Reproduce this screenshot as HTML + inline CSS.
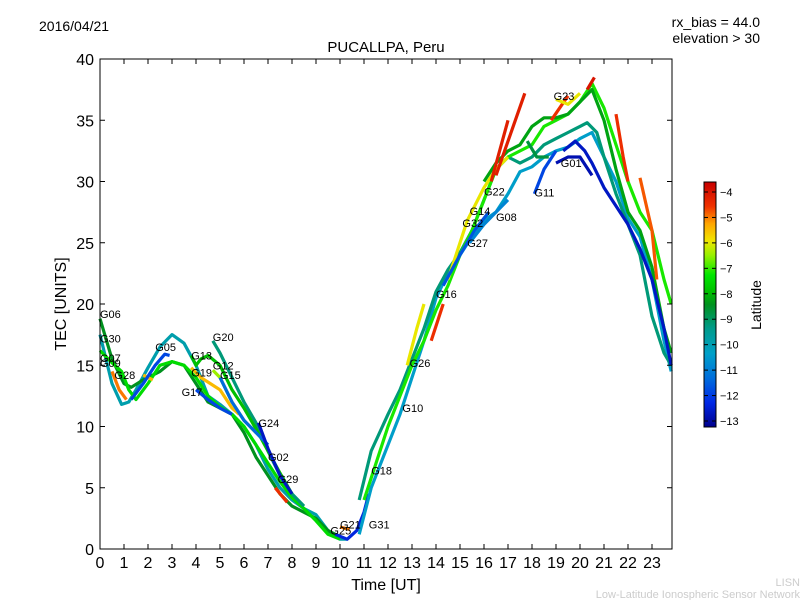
<!DOCTYPE html>
<html><head><meta charset="utf-8"><style>
body{margin:0;background:#fff;}
svg text{font-family:"Liberation Sans","DejaVu Sans",sans-serif;}
</style></head><body>
<svg id="chart" width="800" height="600" xmlns="http://www.w3.org/2000/svg">
<defs><linearGradient id="cmapg" x1="0" y1="1" x2="0" y2="0"></linearGradient></defs>
<text x="39" y="31" font-size="14">2016/04/21</text>
<text x="760" y="27" font-size="14" text-anchor="end">rx_bias = 44.0</text>
<text x="760" y="43" font-size="14" text-anchor="end">elevation &gt; 30</text>
<text x="386" y="52" font-size="15" text-anchor="middle">PUCALLPA, Peru</text>
<g id="marks"></g>
<rect x="100" y="59" width="572" height="490" fill="none" stroke="#000" stroke-width="1"/>
<g id="axes"></g>
<text x="386" y="590" font-size="16" text-anchor="middle">Time [UT]</text>
<text x="66" y="304" font-size="16" text-anchor="middle" transform="rotate(-90 66 304)">TEC [UNITS]</text>
<rect x="704" y="182" width="12" height="245" fill="url(#cmapg)" stroke="#000" stroke-width="1"/>
<g id="cbticks"></g>
<text x="761" y="305" font-size="14" text-anchor="middle" transform="rotate(-90 761 305)">Latitude</text>
<text x="800" y="586" font-size="11" fill="#ccc" text-anchor="end">LISN</text>
<text x="800" y="598" font-size="11" fill="#ccc" text-anchor="end">Low-Latitude Ionospheric Sensor Network</text>
</svg>
<script>
const xTicks=[0,1,2,3,4,5,6,7,8,9,10,11,12,13,14,15,16,17,18,19,20,21,22,23];
const yTicks=[0,5,10,15,20,25,30,35,40];
const cbTicks=[-4,-5,-6,-7,-8,-9,-10,-11,-12,-13];
const series=[
{name:"G06",lat:-10,t:[0,0.5,0.9,1.2,1.5,2,2.5,3,3.5,4,4.5,5,5.5,6,6.5,7,7.5,8,8.5,9,9.5,10,10.3],v:[17.5,13.5,11.8,12,13,14.8,16.5,17.5,16.8,15,12.5,11.8,11,10,8.5,6.5,5,4,3.3,2.8,1.5,0.8,0.8]},
{name:"G30",lat:-8.5,t:[0,0.5,1,1.3,1.8,2.5,3,3.5,4,4.5,5,5.5,6,6.5,7,7.5,8,9,9.5,10],v:[18.8,15.5,13.5,13.2,13.8,14.5,15.3,15,13.5,12,11.5,11,9.5,7.5,6,4.5,3.5,2.5,1.5,1]},
{name:"G07",lat:-7.5,t:[0,0.5,0.9,1.2,1.5,2,2.5,3,3.5,4,4.5,5,5.5,6,6.5,7,7.5,8,8.5,9,9.5,10],v:[16.2,15.2,14.5,13,12.2,13.5,15,15.3,15,14,12.5,11.6,11,10,8.5,7,5.5,4.2,3.3,2.3,1.2,0.8]},
{name:"G28",lat:-5,t:[0.5,0.8,1.1],v:[14.5,13,12.2]},
{name:"G28b",lat:-5.5,t:[1.8,2.2],v:[14.2,13.8]},
{name:"G05",lat:-12,t:[1.3,1.8,2.3,2.7,2.9],v:[12.2,13.5,15,15.9,15.8]},
{name:"G20",lat:-9.3,t:[4.7,5,5.5,6,6.5,7,7.5,8,8.5],v:[17,16,14,12,10.3,8,6,4.5,3.5]},
{name:"G13",lat:-8,t:[3.8,4,4.2,4.5,5,5.5,6,6.5,7,7.5,8],v:[15.8,15,15.5,15.8,15,13,11.5,9.8,8,6.2,4.5]},
{name:"G19",lat:-5.5,t:[3.8,4.2,4.6,5,5.5,5.8],v:[14.8,14,13.5,13,11.5,11]},
{name:"G12",lat:-6.5,t:[4.7,5,5.5,6,6.5],v:[14.6,14,12,10.5,9.5]},
{name:"G15",lat:-11.5,t:[5,5.5,6,6.5,7],v:[14,12,10.5,9.5,8.5]},
{name:"G24",lat:-12.8,t:[6.6,7,7.5,8],v:[10.3,8.2,6,4.5]},
{name:"G17",lat:-12,t:[4,4.5,5,5.5],v:[13,12.2,11.5,11]},
{name:"G29",lat:-4.5,t:[7.3,7.8],v:[5,3.8]},
{name:"G31",lat:-12.5,t:[9.8,10.3,10.7,11,11.2],v:[1.2,0.8,1.5,3,4.5]},
{name:"G21",lat:-5,t:[10,10.4],v:[1.8,1.6]},
{name:"G10",lat:-10.5,t:[10.8,11.3,12,12.5,13,13.5,14,14.5,15,15.5,16,16.5,17,17.5,18,18.5,19,19.5,20,20.5,21,21.5,22,22.5,23,23.5,23.8],v:[1.2,5,8.5,11,14,17,20.5,22.5,24,25.5,26.8,27.5,29,30.8,31.2,32,32.5,32.8,33.5,34,32,30,27,25.5,22,17,14.5]},
{name:"G18",lat:-9.3,t:[10.8,11.3,12,12.5,13,13.5,14,14.5,15,15.5,16,16.5,17,17.5,18,18.5,19,19.5,20,20.3,20.7,21,21.5,22,22.5,23,23.5,23.8],v:[4,8,11,13,15.5,18,21,22.8,24.2,26,28.5,31,32,31.5,32,33,33.5,34,34.5,34.8,34,32,29,26.5,24,19,16,15]},
{name:"G26",lat:-7.2,t:[11,11.5,12,12.5,13,13.5,14,14.5,15,15.5,16,16.5,17,18,18.5,19,19.5,20,20.5,21,21.5,22,22.5,23,23.5,23.8],v:[4,7,10,12.5,15,17,19.5,21.5,24,26,28.5,31,32,33,34.5,35,35.5,36.5,38,36,33,30,27.5,26,22,20]},
{name:"G22",lat:-8.3,t:[16,16.5,17,17.5,18,18.5,19,19.5,20,20.5,21,21.5,22,22.5,23,23.5,23.8],v:[30,31.5,32.5,33,34.5,35.2,35.2,35.5,36.5,37.5,35,31,27.5,26,23,18,16]},
{name:"G26b",lat:-6,t:[12.8,13.2,13.5],v:[15,18,20]},
{name:"G16",lat:-4.5,t:[13.8,14.3],v:[17,20]},
{name:"G14",lat:-6,t:[14.5,15,15.3,16,16.5,17],v:[22,25,26.8,29.5,31,32]},
{name:"R1",lat:-4.2,t:[16.3,17],v:[30,35]},
{name:"R2",lat:-4.2,t:[16.5,17.7],v:[30.5,37.2]},
{name:"R3",lat:-4.5,t:[18.8,19.5],v:[35,37]},
{name:"R4",lat:-4,t:[20.3,20.6],v:[37.5,38.5]},
{name:"G23",lat:-6,t:[19,19.5,20],v:[36.7,36.3,37.2]},
{name:"G01",lat:-13,t:[19,19.5,20,20.5],v:[31.5,32,32,30.5]},
{name:"G01b",lat:-12.8,t:[19.3,19.8,20.2,20.5,21,21.5,22,22.5,23,23.5,23.8],v:[32.5,33.3,32.5,31.5,29.5,28,26.5,24.5,22,18,15]},
{name:"G11",lat:-12,t:[18.1,18.5,19],v:[29,31,32.5]},
{name:"G27",lat:-11,t:[15.4,16,16.5,17],v:[25,26.5,27.5,28.5]},
{name:"G08",lat:-11.8,t:[14.3,15,15.6,16.2],v:[21.5,24,26,27.5]},
{name:"R5",lat:-4.5,t:[21.5,21.8,22],v:[35.5,32,30]},
{name:"R6",lat:-4.8,t:[22.5,23,23.2],v:[30.3,26,22]},
{name:"G08b",lat:-8.8,t:[17.8,18.2,18.7],v:[33.3,32,32]}
];
const labels=[["G06",0,19.2],["G30",0,17.2],["G07",0,15.6],["G09",0,15.2],["G28",0.6,14.2],["G05",2.3,16.5],["G20",4.7,17.3],["G13",3.8,15.8],["G19",3.8,14.4],["G12",4.7,15],["G15",5,14.2],["G17",3.4,12.8],["G24",6.6,10.3],["G02",7,7.5],["G29",7.4,5.7],["G21",10,2],["G25",9.6,1.5],["G31",11.2,2],["G18",11.3,6.4],["G10",12.6,11.5],["G26",12.9,15.2],["G16",14,20.8],["G27",15.3,25],["G32",15.1,26.6],["G14",15.4,27.6],["G08",16.5,27.1],["G22",16,29.2],["G11",18.1,29.1],["G01",19.2,31.5],["G23",18.9,37]];
const X0=100,XS=24.0,Y0=549,YS=12.25;
const xs=t=>X0+t*XS, ys=v=>Y0-v*YS;
const NS="http://www.w3.org/2000/svg";
const LMIN=-13.4,LMAX=-3.6;
const cstops=[[0,[0,0,140]],[0.1,[0,40,230]],[0.2,[0,110,220]],[0.3,[0,160,200]],[0.4,[0,155,140]],[0.5,[0,145,30]],[0.55,[0,190,0]],[0.62,[0,230,0]],[0.7,[150,240,0]],[0.76,[240,230,0]],[0.83,[255,165,0]],[0.9,[240,50,0]],[1,[200,0,0]]];
function cmap(lat){let x=(lat-LMIN)/(LMAX-LMIN);x=Math.max(0,Math.min(1,x));
for(let i=1;i<cstops.length;i++){if(x<=cstops[i][0]){const a=cstops[i-1],b=cstops[i],f=(x-a[0])/(b[0]-a[0]);const c=a[1].map((v,k)=>Math.round(v+(b[1][k]-v)*f));return `rgb(${c[0]},${c[1]},${c[2]})`;}}
return 'rgb(200,0,0)';}
const grad=document.getElementById('cmapg');
cstops.forEach(s=>{const st=document.createElementNS(NS,'stop');st.setAttribute('offset',s[0]);st.setAttribute('stop-color',`rgb(${s[1].join(',')})`);grad.appendChild(st);});
const marks=document.getElementById('marks');
series.forEach(s=>{const p=document.createElementNS(NS,'polyline');
p.setAttribute('points',s.t.map((t,i)=>xs(t).toFixed(1)+','+ys(s.v[i]).toFixed(1)).join(' '));
p.setAttribute('fill','none');p.setAttribute('stroke',cmap(s.lat));p.setAttribute('stroke-width','3.2');p.setAttribute('stroke-linejoin','round');


marks.appendChild(p);});
labels.forEach(l=>{const t=document.createElementNS(NS,'text');t.setAttribute('x',xs(l[1]));t.setAttribute('y',ys(l[2])+4);t.setAttribute('font-size','11');t.textContent=l[0];


marks.appendChild(t);});
const axes=document.getElementById('axes');
function line(x1,y1,x2,y2,g){const l=document.createElementNS(NS,'line');l.setAttribute('x1',x1);l.setAttribute('y1',y1);l.setAttribute('x2',x2);l.setAttribute('y2',y2);l.setAttribute('stroke','#000');


g.appendChild(l);}
function txt(x,y,s,a,fs,g,n){const t=document.createElementNS(NS,'text');t.setAttribute('x',x);t.setAttribute('y',y);t.setAttribute('text-anchor',a);t.setAttribute('font-size',fs);t.textContent=s;


g.appendChild(t);}
xTicks.forEach(v=>{const x=xs(v);line(x,549,x,544,axes);line(x,59,x,64,axes);txt(x,568,v,'middle',16,axes,'x-tick-label');});
yTicks.forEach(v=>{const y=ys(v);line(100,y,105,y,axes);line(672,y,667,y,axes);txt(94,y+6,v,'end',16,axes,'y-tick-label');});
const cb=document.getElementById('cbticks');
cbTicks.forEach(v=>{const y=192+(-4-v)*(229/9);line(704,y,708,y,cb);line(716,y,712,y,cb);txt(720,y+4,'\u2212'+Math.abs(v),'start',11,cb,'colorbar-tick-label');});
</script>
</body></html>
